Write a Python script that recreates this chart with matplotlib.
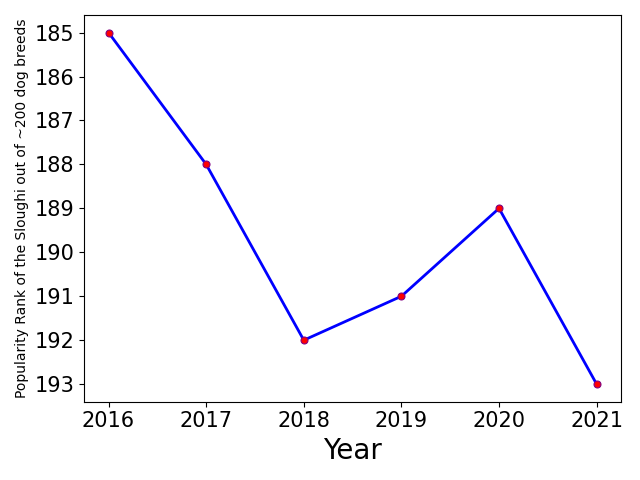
import matplotlib
matplotlib.use('Agg')
import matplotlib.pyplot as plt

years = [2016, 2017, 2018, 2019, 2020, 2021]
ranks = [185, 188, 192, 191, 189, 193]

fig, ax = plt.subplots(figsize=(6.4, 4.8), dpi=100)
ax.plot(years, ranks, color='blue', linewidth=2, marker='o', markersize=5,
        markerfacecolor='red', markeredgecolor='purple', markeredgewidth=0.8)
ax.invert_yaxis()
ax.set_xlabel('Year', fontsize=20)
ax.set_ylabel('Popularity Rank of the Sloughi out of ~200 dog breeds', fontsize=10)
ax.tick_params(axis='both', labelsize=15)
fig.tight_layout()
fig.savefig('out.png')
